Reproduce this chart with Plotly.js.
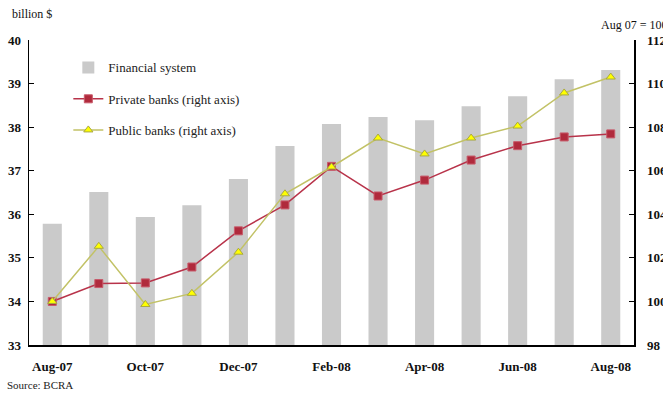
<!DOCTYPE html>
<html>
<head>
<meta charset="utf-8">
<script src="https://cdn.plot.ly/plotly-3.0.1.min.js"></script>
<style>html,body{margin:0;padding:0;background:#fff;}#chart{width:663px;height:394px;}</style>
</head>
<body>
<div id="chart"></div>
<script>
const months = ["Aug-07","Sep-07","Oct-07","Nov-07","Dec-07","Jan-08","Feb-08","Mar-08","Apr-08","May-08","Jun-08","Jul-08","Aug-08"];
const tickLabels = ["Aug-07","Oct-07","Dec-07","Feb-08","Apr-08","Jun-08","Aug-08"];
const financialSystem = [35.78, 36.51, 35.94, 36.21, 36.81, 37.57, 38.07, 38.23, 38.16, 38.48, 38.71, 39.10, 39.31];
const privateBanks = [100.0, 100.82, 100.85, 101.58, 103.24, 104.43, 106.2, 104.84, 105.57, 106.49, 107.15, 107.55, 107.69];
const publicBanks = [100.0, 102.53, 99.86, 100.37, 102.26, 104.94, 106.17, 107.5, 106.77, 107.5, 108.05, 109.57, 110.3];
const boundaryTicks = [1.5, 3.5, 5.5, 7.5, 9.5, 11.5];

const serif = "Liberation Serif, Times New Roman, serif";

const traces = [
  {type:'bar', x:months, y:financialSystem, name:'Financial system', marker:{color:'#cacaca'}, width:0.41, legend:'legend', xaxis:'x', yaxis:'y'},
  {type:'scatter', mode:'lines+markers', x:months, y:privateBanks, name:'Private banks (right axis)', yaxis:'y2', legend:'legend2',
   line:{color:'#b8334a', width:1.5}, marker:{symbol:'square', size:8, color:'#b02a3c', line:{color:'#c85a6a', width:1}}},
  {type:'scatter', mode:'lines+markers', x:months, y:publicBanks, name:'Public banks (right axis)', yaxis:'y2', legend:'legend3',
   line:{color:'#c2c266', width:1.5}, marker:{symbol:'triangle-up', size:8, color:'#ffff00', line:{color:'#a8a840', width:1}}}
];

const legBase = {xref:'paper', yref:'paper', xanchor:'left', yanchor:'middle', bgcolor:'rgba(0,0,0,0)', font:{family:serif, size:13, color:'#222'}, itemwidth:30};

const layout = {
  width:663, height:394,
  margin:{l:29, r:29, t:40, b:49},
  paper_bgcolor:'#fff', plot_bgcolor:'#fff',
  showlegend:true,
  bargap:0.59,
  xaxis:{type:'category', range:[-0.5,12.5], tickmode:'array', tickvals:tickLabels, ticktext:tickLabels,
    ticks:'', showline:true, linecolor:'#000', linewidth:1.5, showgrid:false, zeroline:false,
    tickfont:{family:serif, size:13, color:'#111', weight:'bold'}, ticklabelstandoff:9},
  xaxis2:{type:'linear', overlaying:'x', anchor:'y', side:'bottom', range:[-0.5,12.5], tickmode:'array', tickvals:boundaryTicks,
    ticks:'inside', ticklen:5, tickwidth:1, tickcolor:'#000', showticklabels:false, showgrid:false, zeroline:false, showline:false},
  yaxis:{range:[33,40], dtick:1, tickmode:'linear', tick0:33, ticks:'inside', ticklen:5, tickcolor:'#000', showline:true, linecolor:'#000', linewidth:1.5,
    showgrid:false, zeroline:false, tickfont:{family:serif, size:13, color:'#111', weight:'bold'}, ticklabelstandoff:4},
  yaxis2:{range:[98,112], dtick:2, tick0:98, tickmode:'linear', overlaying:'y', side:'right', anchor:'x', ticks:'inside', ticklen:5, tickcolor:'#000',
    showline:true, linecolor:'#000', linewidth:1.5, showgrid:false, zeroline:false,
    tickfont:{family:serif, size:13, color:'#111', weight:'bold'}, ticklabelstandoff:9},
  legend: Object.assign({}, legBase, {x:0.065, y:0.91}),
  legend2: Object.assign({}, legBase, {x:0.065, y:0.807}),
  legend3: Object.assign({}, legBase, {x:0.065, y:0.705}),
  annotations:[
    {text:'billion $', xref:'paper', yref:'paper', x:-0.032, y:1.085, xanchor:'left', yanchor:'middle', showarrow:false, font:{family:serif, size:12, color:'#111'}},
    {text:'Aug 07 = 100', xref:'paper', yref:'paper', x:0.942, y:1.05, xanchor:'left', yanchor:'middle', showarrow:false, font:{family:serif, size:12, color:'#111'}},
    {text:'Source: BCRA', xref:'paper', yref:'paper', x:-0.04, y:-0.13, xanchor:'left', yanchor:'middle', showarrow:false, font:{family:serif, size:11, color:'#222'}}
  ]
};

Plotly.newPlot('chart', traces, layout, {displayModeBar:false, staticPlot:true});
</script>
</body>
</html>
